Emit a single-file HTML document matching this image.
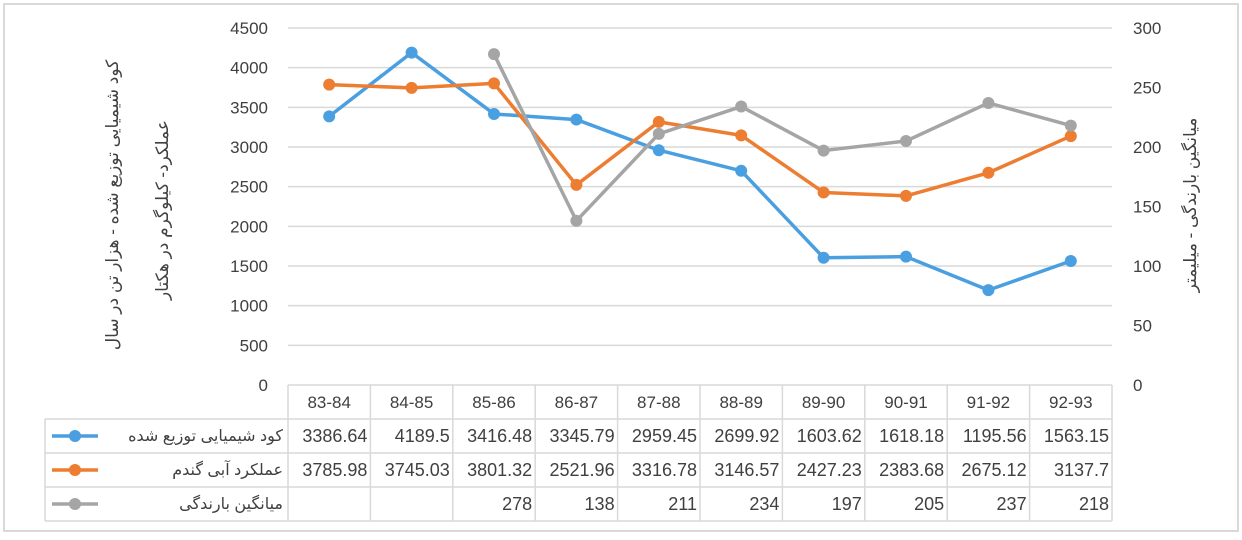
<!DOCTYPE html>
<html><head><meta charset="utf-8"><style>
body{margin:0;background:#fff;width:1242px;height:535px;overflow:hidden;font-family:"Liberation Sans","DejaVu Sans",sans-serif}
svg text{font-family:"Liberation Sans","DejaVu Sans",sans-serif;fill:#404040}
</style></head><body>
<svg id="chart" width="1242" height="535">
<rect x="4" y="4" width="1234" height="527" fill="#fff" stroke="#d9d9d9" stroke-width="2"/>
<g id="grid"></g><g id="axes"></g><g id="table"></g><g id="series"></g>
<text x="118" y="205" font-size="17" text-anchor="middle" transform="rotate(-90 118 205)">کود شیمیایی توزیع شده - هزار تن در سال</text>
<text x="168" y="210" font-size="17" text-anchor="middle" transform="rotate(-90 168 210)">عملکرد- کیلوگرم در هکتار</text>
<text x="1196" y="205" font-size="17" text-anchor="middle" transform="rotate(-90 1196 205)">میانگین بارندگی - میلیمتر</text>
</svg>
<script>
const categories=["83-84","84-85","85-86","86-87","87-88","88-89","89-90","90-91","91-92","92-93"];
const fertilizer=[3386.64,4189.5,3416.48,3345.79,2959.45,2699.92,1603.62,1618.18,1195.56,1563.15];
const yieldVals=[3785.98,3745.03,3801.32,2521.96,3316.78,3146.57,2427.23,2383.68,2675.12,3137.7];
const rainfall=[null,null,278,138,211,234,197,205,237,218];
const leftTicks=[0,500,1000,1500,2000,2500,3000,3500,4000,4500];
const rightTicks=[0,50,100,150,200,250,300];
const seriesNames=["کود شیمیایی توزیع شده","عملکرد آبی گندم","میانگین بارندگی"];
const NS="http://www.w3.org/2000/svg";
const X0=288,X1=1112,Y0=385,Y1=28,TL=45;
const cw=(X1-X0)/categories.length;
const xs=i=>X0+cw*(i+0.5);
const yl=v=>Y0-(v/4500)*(Y0-Y1);
const yr=v=>Y0-(v/300)*(Y0-Y1);
function mk(p,tag,a){const e=document.createElementNS(NS,tag);for(const k in a)e.setAttribute(k,a[k]);p.appendChild(e);return e;}
const grid=document.getElementById('grid'),axes=document.getElementById('axes'),tb=document.getElementById('table'),sg=document.getElementById('series');
leftTicks.forEach(t=>{const y=yl(t);
 if(t>0){const l=mk(grid,'line',{x1:X0,x2:X1,y1:y,y2:y,stroke:'#d9d9d9','stroke-width':1.5});
 
 }
 const tx=mk(axes,'text',{x:268,y:y+6,'font-size':17,'text-anchor':'end'});tx.textContent=t;
 
 });
rightTicks.forEach(t=>{const tx=mk(axes,'text',{x:1133,y:yr(t)+6,'font-size':17});tx.textContent=t;
 
 });
const rows=[385,419,453,487,521];
const st={stroke:'#d9d9d9','stroke-width':1.5};
mk(tb,'line',Object.assign({x1:X0,x2:X1,y1:385,y2:385},st));
for(let r=1;r<rows.length;r++)mk(tb,'line',Object.assign({x1:TL,x2:X1,y1:rows[r],y2:rows[r]},st));
mk(tb,'line',Object.assign({x1:TL,x2:TL,y1:419,y2:521},st));
for(let i=0;i<=categories.length;i++)mk(tb,'line',Object.assign({x1:X0+cw*i,x2:X0+cw*i,y1:385,y2:521},st));
categories.forEach((c,i)=>{const t=mk(tb,'text',{x:xs(i),y:408,'font-size':17,'text-anchor':'middle'});t.textContent=c;
 
 });
const colors=['#4a9fe0','#ed7d31','#a5a5a5'];
const data=[fertilizer,yieldVals,rainfall];
const yfun=[yl,yl,yr];
data.forEach((arr,s)=>{const ry=rows[s+1]+23;
 arr.forEach((v,i)=>{if(v===null)return;const t=mk(tb,'text',{x:X0+cw*(i+1)-3,y:ry,'font-size':18,'text-anchor':'end'});t.textContent=v;
  
  });
 const lt=mk(tb,'text',{x:283,y:ry-1,'font-size':16,'text-anchor':'end','font-family':'"DejaVu Sans",sans-serif'});lt.textContent=seriesNames[s];
 
 
 const ll=mk(tb,'line',{x1:52,x2:98,y1:ry-6,y2:ry-6,stroke:colors[s],'stroke-width':3.5});
 
 
 const lc=mk(tb,'circle',{cx:75,cy:ry-6,r:6,fill:colors[s]});
 
 
 const pts=[];arr.forEach((v,i)=>{if(v!==null)pts.push([xs(i),yfun[s](v)]);});
 const pl=mk(sg,'polyline',{points:pts.map(p=>p.join(',')).join(' '),fill:'none',stroke:colors[s],'stroke-width':3.5,'stroke-linejoin':'round'});
 
 
 pts.forEach(p=>{const c=mk(sg,'circle',{cx:p[0],cy:p[1],r:6,fill:colors[s]});
  
  });
});
</script>
</body></html>
